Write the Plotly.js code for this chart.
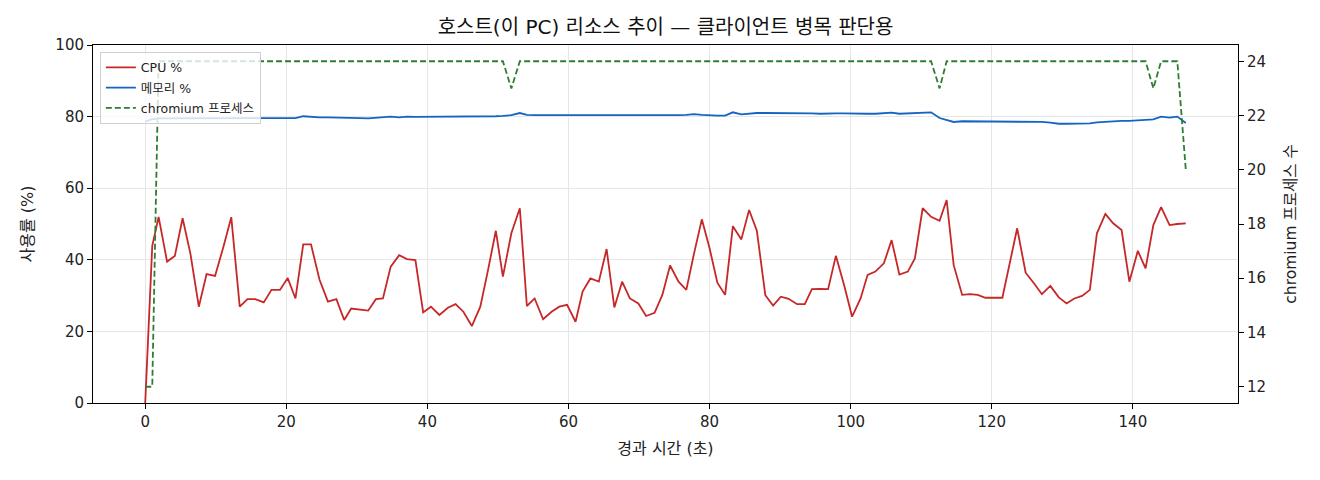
<!DOCTYPE html>
<html>
<head>
<meta charset="utf-8">
<script src="https://cdn.plot.ly/plotly-3.0.1.min.js"></script>
<style>
  html, body { margin: 0; padding: 0; background: #fff; }
  #chart { width: 1320px; height: 480px; }
</style>
</head>
<body>
<div id="chart"></div>
<script>
// elapsed seconds per sample
const elapsed = [
  0, 1.0, 1.9, 3.1, 4.2, 5.3, 6.4, 7.6, 8.7, 9.9,
  11.1, 12.2, 13.4, 14.5, 15.6, 16.8, 17.9, 19.1, 20.2, 21.3,
  22.4, 23.5, 24.7, 25.9, 27.1, 28.2, 29.2, 30.4, 31.6, 32.7,
  33.7, 34.8, 36.0, 37.1, 38.3, 39.4, 40.5, 41.7, 42.9, 44.0,
  45.1, 46.3, 47.5, 48.6, 49.7, 50.7, 51.9, 53.1, 54.1, 55.2,
  56.4, 57.6, 58.7, 59.8, 61.0, 62.0, 63.1, 64.3, 65.4, 66.5,
  67.6, 68.7, 69.9, 71.0, 72.2, 73.3, 74.4, 75.6, 76.7, 77.8,
  78.9, 80.0, 81.1, 82.2, 83.3, 84.5, 85.6, 86.7, 87.9, 89.0,
  90.1, 91.2, 92.4, 93.5, 94.5, 95.7, 96.8, 97.9, 99.1, 100.2,
  101.4, 102.4, 103.5, 104.7, 105.8, 106.9, 108.1, 109.1, 110.2, 111.4,
  112.6, 113.6, 114.6, 115.8, 116.9, 118.0, 119.1, 120.3, 121.5, 123.6,
  124.8, 126.0, 127.1, 128.3, 129.5, 130.6, 131.7, 132.8, 133.9, 134.9,
  136.1, 137.2, 138.4, 139.5, 140.7, 141.8, 142.9, 144.0, 145.2, 146.3,
  147.5
];

const cpuPct = [
  0, 43.9, 52.0, 39.5, 41.1, 51.6, 41.8, 26.9, 36.0, 35.5,
  43.7, 51.9, 26.9, 29.0, 29.0, 28.1, 31.6, 31.6, 34.9, 29.2,
  44.3, 44.3, 34.5, 28.3, 29.0, 23.2, 26.4, 26.0, 25.8, 29.0,
  29.2, 38.1, 41.3, 40.2, 39.9, 25.3, 26.9, 24.6, 26.6, 27.6,
  25.5, 21.5, 26.9, 37.2, 48.1, 35.3, 47.4, 54.4, 27.1, 29.2,
  23.4, 25.5, 26.9, 27.4, 22.7, 31.1, 34.8, 33.9, 43.0, 26.7,
  33.9, 29.2, 27.8, 24.3, 25.2, 30.2, 38.4, 33.9, 31.6, 41.8,
  51.3, 43.2, 33.6, 30.2, 49.4, 45.7, 53.9, 48.1, 30.1, 27.2,
  29.7, 29.1, 27.6, 27.6, 31.8, 31.9, 31.8, 41.1, 32.7, 24.1,
  29.2, 35.8, 36.7, 39.0, 45.5, 35.9, 36.7, 40.4, 54.4, 52.0,
  50.9, 56.7, 38.5, 30.2, 30.4, 30.2, 29.4, 29.4, 29.4, 48.8,
  36.4, 33.4, 30.4, 32.7, 29.5, 27.8, 29.2, 29.9, 31.6, 47.4,
  52.8, 50.2, 48.3, 33.9, 42.5, 37.6, 49.7, 54.7, 49.7, 50.0,
  50.2
];

const memPct = [
  78.6, 79.3, 79.5, 79.5, 79.5, 79.6, 79.6, 79.6, 79.6, 79.6,
  79.6, 79.7, 79.6, 79.6, 79.6, 79.6, 79.6, 79.6, 79.6, 79.6,
  80.1, 79.9, 79.8, 79.8, 79.8, 79.6, 79.6, 79.6, 79.5, 79.6,
  79.7, 80.0, 79.8, 80.0, 79.9, 79.9, 79.9, 79.9, 80.0, 79.9,
  79.9, 79.9, 79.9, 80.0, 80.1, 80.2, 80.4, 81.0, 80.5, 80.4,
  80.4, 80.4, 80.4, 80.4, 80.3, 80.3, 80.3, 80.4, 80.4, 80.2,
  80.2, 80.2, 80.2, 80.2, 80.2, 80.3, 80.4, 80.4, 80.5, 80.7,
  80.5, 80.3, 80.3, 80.3, 81.2, 80.6, 80.9, 81.0, 81.0, 81.0,
  81.0, 81.1, 81.0, 80.9, 80.9, 80.8, 80.9, 80.9, 80.9, 80.8,
  80.8, 80.8, 80.8, 80.9, 81.1, 80.8, 80.9, 81.0, 81.0, 81.2,
  79.6, 79.0, 78.5, 78.7, 78.7, 78.7, 78.6, 78.5, 78.5, 78.6,
  78.6, 78.5, 78.5, 78.3, 78.0, 78.0, 78.0, 78.1, 78.1, 78.4,
  78.6, 78.7, 78.8, 78.8, 78.9, 79.0, 79.2, 80.0, 79.7, 80.0,
  78.2
];

const chromiumProcs = [
  12, 12, 24, 24, 24, 24, 24, 24, 24, 24,
  24, 24, 24, 24, 24, 24, 24, 24, 24, 24,
  24, 24, 24, 24, 24, 24, 24, 24, 24, 24,
  24, 24, 24, 24, 24, 24, 24, 24, 24, 24,
  24, 24, 24, 24, 24, 24, 23, 24, 24, 24,
  24, 24, 24, 24, 24, 24, 24, 24, 24, 24,
  24, 24, 24, 24, 24, 24, 24, 24, 24, 24,
  24, 24, 24, 24, 24, 24, 24, 24, 24, 24,
  24, 24, 24, 24, 24, 24, 24, 24, 24, 24,
  24, 24, 24, 24, 24, 24, 24, 24, 24, 24,
  23, 24, 24, 24, 24, 24, 24, 24, 24, 24,
  24, 24, 24, 24, 24, 24, 24, 24, 24, 24,
  24, 24, 24, 24, 24, 24, 23, 24, 24, 24,
  20
];

// wide latin glyphs like the original, Hangul falls back to Noto CJK
const FONT = '"DejaVu Sans", "Noto Sans CJK KR", sans-serif';

let traces = [
  {
    x: elapsed, y: cpuPct, name: 'CPU %', type: 'scatter', mode: 'lines',
    legendgroup: 'cpu',
    line: { color: '#c62828', width: 1.8 }
  },
  {
    x: elapsed, y: memPct, name: '메모리 %', type: 'scatter', mode: 'lines',
    legendgroup: 'mem',
    line: { color: '#1565c0', width: 1.8 }
  },
  {
    x: elapsed, y: chromiumProcs, name: 'chromium 프로세스', type: 'scatter', mode: 'lines',
    legendgroup: 'proc', yaxis: 'y2',
    line: { color: '#2e7d32', width: 1.8, dash: '6px,3px' }
  }
];

let axisBase = {
  showline: true, linecolor: '#000', linewidth: 1,
  ticks: 'outside', ticklen: 5, tickwidth: 1, tickcolor: '#000',
  tickfont: { family: FONT, size: 15, color: '#222' },
  zeroline: false
};

let layout = {
  width: 1320, height: 480,
  paper_bgcolor: '#fff', plot_bgcolor: '#fff',
  margin: { l: 93, r: 82, t: 45, b: 77 },
  font: { family: FONT, color: '#222' },
  title: {
    text: '호스트(이 PC) 리소스 추이 — 클라이언트 병목 판단용',
    font: { family: FONT, size: 20, color: '#111' },
    xref: 'paper', x: 0.5, xanchor: 'center',
    yref: 'container', y: 0.943, yanchor: 'middle'
  },
  xaxis: Object.assign({}, axisBase, {
    range: [-7.4, 154.9], tick0: 0, dtick: 20, mirror: true,
    showgrid: true, gridcolor: '#e6e6e6', gridwidth: 1,
    title: { text: '경과 시간 (초)', font: { family: FONT, size: 16, color: '#222' }, standoff: 12 }
  }),
  yaxis: Object.assign({}, axisBase, {
    range: [0, 100], tick0: 0, dtick: 20, mirror: true,
    showgrid: true, gridcolor: '#e6e6e6', gridwidth: 1,
    title: { text: '사용률 (%)', font: { family: FONT, size: 16, color: '#222' }, standoff: 17 }
  }),
  yaxis2: Object.assign({}, axisBase, {
    overlaying: 'y', side: 'right', anchor: 'x',
    range: [11.4, 24.6], tick0: 12, dtick: 2, showgrid: false,
    title: { text: 'chromium 프로세스 수', font: { family: FONT, size: 15.5, color: '#222' }, standoff: 20 }
  }),
  showlegend: true,
  legend: {
    x: 0.006, y: 0.981, xanchor: 'left', yanchor: 'top',
    traceorder: 'grouped',
    bgcolor: 'rgba(255,255,255,0.8)', bordercolor: '#d0d0d0', borderwidth: 1,
    font: { family: FONT, size: 12.5, color: '#222' },
    itemwidth: 30, tracegroupgap: 1
  }
};

Plotly.newPlot('chart', traces, layout, { displayModeBar: false, staticPlot: true });
</script>
</body>
</html>
